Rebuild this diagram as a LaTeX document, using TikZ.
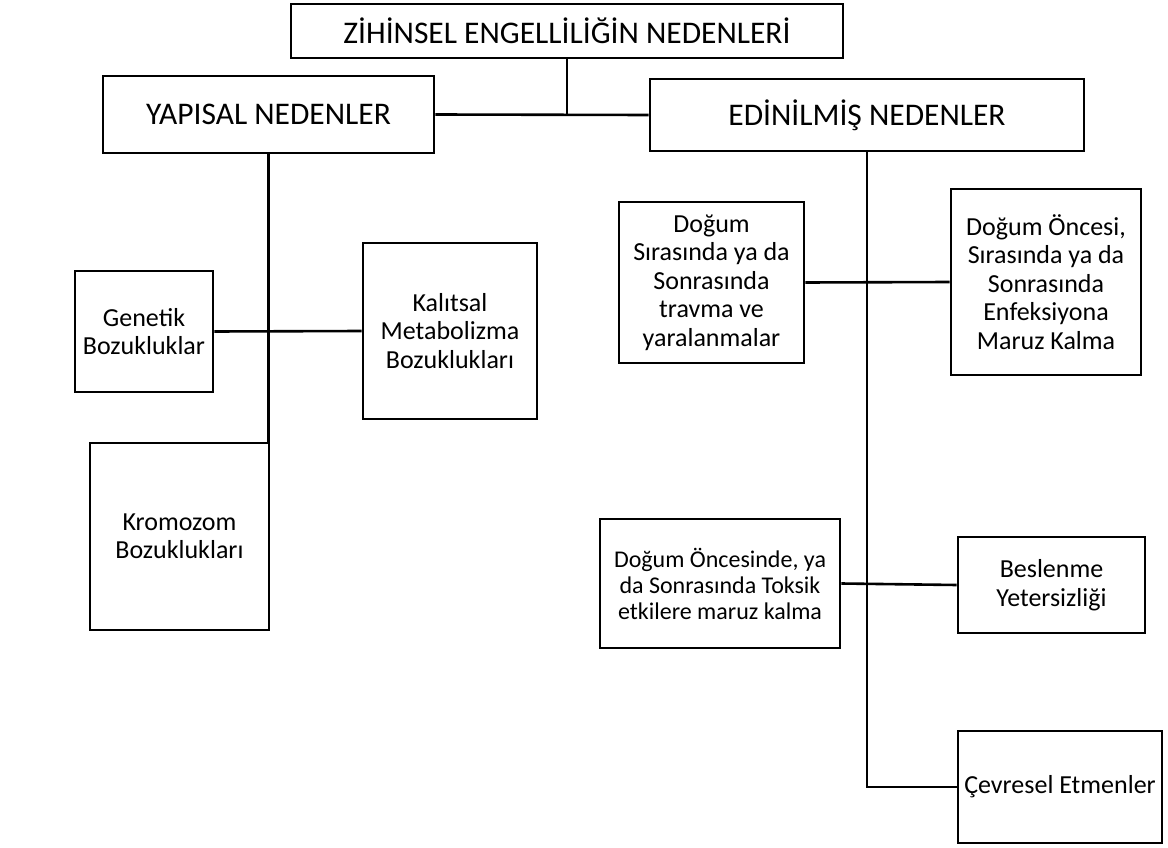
\documentclass[tikz,border=0pt]{standalone}
\usepackage{fontspec}
\setmainfont{Carlito}
\tikzset{
  box/.style={draw=black, line width=2.6pt, fill=white, inner sep=0pt, align=center, text=black},
  bigtxt/.style={font={\fontsize{31.5}{38}\selectfont}},
  midtxt/.style={font={\fontsize{26}{28.5}\selectfont}},
  smltxt/.style={font={\fontsize{24}{26}\selectfont}},
  conn/.style={draw=black, line width=2.6pt}
}
\begin{document}
\begin{tikzpicture}[x=1pt, y=-1pt]
\useasboundingbox (0,0) rectangle (1168,848);
\fill[white] (0,0) rectangle (1168,848);
% boxes
\node[box, bigtxt, minimum width=552pt, minimum height=54pt] (top) at (567,31) {ZİHİNSEL ENGELLİLİĞİN NEDENLERİ};
\node[box, bigtxt, minimum width=331pt, minimum height=77pt] (yap) at (268.5,114.5) {YAPISAL NEDENLER};
\node[box, bigtxt, minimum width=434pt, minimum height=72pt] (edi) at (867,115) {EDİNİLMİŞ NEDENLER};
\node[box, midtxt, minimum width=138pt, minimum height=121pt] (gen) at (144,331.5) {Genetik\\Bozukluklar};
\node[box, midtxt, minimum width=174pt, minimum height=176pt] (kal) at (450,331) {Kalıtsal\\Metabolizma\\Bozuklukları};
\node[box, midtxt, minimum width=179pt, minimum height=187pt] (krom) at (179.5,536.5) {Kromozom\\Bozuklukları};
\node[box, midtxt, minimum width=185pt, minimum height=161pt] (dsir) at (711.5,282.5) {Doğum\\Sırasında ya da\\Sonrasında\\travma ve\\yaralanmalar};
\node[box, midtxt, minimum width=190pt, minimum height=186pt] (donc) at (1046,282) {Doğum Öncesi,\\Sırasında ya da\\Sonrasında\\Enfeksiyona\\Maruz Kalma};
\node[box, smltxt, minimum width=240pt, minimum height=129pt] (toks) at (720,583.5) {Doğum Öncesinde, ya\\da Sonrasında Toksik\\etkilere maruz kalma};
\node[box, midtxt, minimum width=187pt, minimum height=96pt] (besl) at (1051.5,585) {Beslenme\\Yetersizliği};
\node[box, midtxt, minimum width=204pt, minimum height=112pt] (cevr) at (1060,787) {Çevresel Etmenler};
% junction coordinates
\coordinate (j0) at (top.south |- yap.east);
\coordinate (jr) at (edi.south |- cevr.west);
% connectors
\draw[conn] (top.south) -- (j0);
\draw[conn] (yap.east) -- (edi.west);
\draw[conn] (yap.south) -- (yap.south |- krom.north);
\draw[conn] (gen.east) -- (kal.west);
\draw[conn] (edi.south) -- (jr) -- (cevr.west);
\draw[conn] (dsir.east) -- (donc.west);
\draw[conn] (toks.east) -- (besl.west);
\end{tikzpicture}
\end{document}
